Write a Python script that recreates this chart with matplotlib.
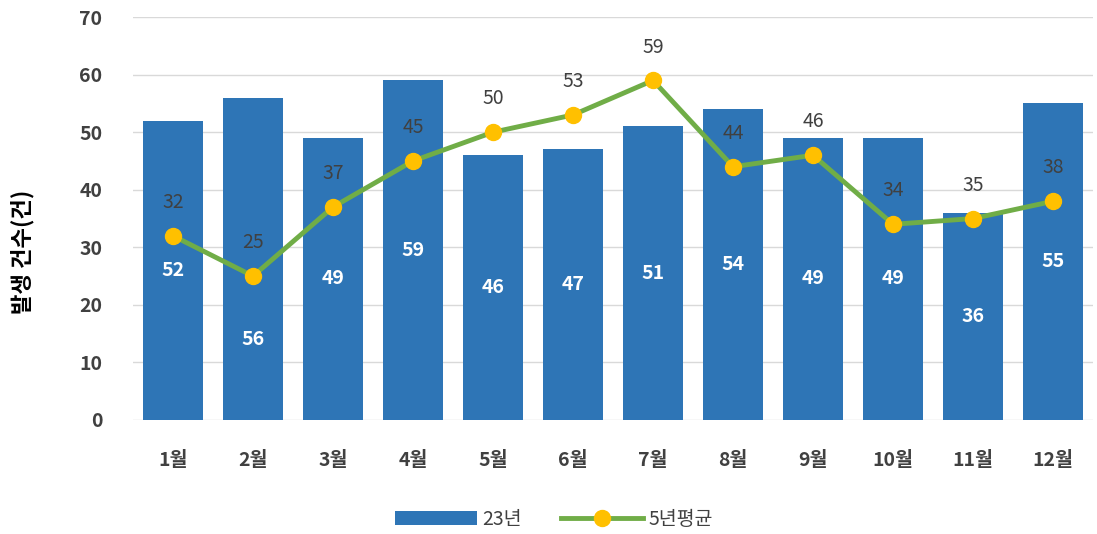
import matplotlib
matplotlib.use("Agg")
import matplotlib.pyplot as plt
import numpy as np

plt.rcParams['font.family'] = ['Noto Sans CJK KR', 'DejaVu Sans']

months = ['1월', '2월', '3월', '4월', '5월', '6월', '7월', '8월', '9월', '10월', '11월', '12월']
cases_23 = [52, 56, 49, 59, 46, 47, 51, 54, 49, 49, 36, 55]
avg_5yr = [32, 25, 37, 45, 50, 53, 59, 44, 46, 34, 35, 38]

BAR_COLOR = '#2E75B6'
LINE_COLOR = '#70AD47'
MARKER_COLOR = '#FFC000'
TEXT_COLOR = '#404040'

fig = plt.figure(figsize=(10.97, 5.34), dpi=100)
ax = fig.add_axes([0.1212, 0.2135, 0.8752, 0.7545])

x = np.arange(len(months))
bars = ax.bar(x, cases_23, width=0.74, color=BAR_COLOR, label='23년', zorder=2)
line, = ax.plot(x, avg_5yr, color=LINE_COLOR, lw=3.5, marker='o', ms=11.5,
                markerfacecolor=MARKER_COLOR, markeredgecolor=MARKER_COLOR,
                label='5년평균', zorder=3)

# bar value labels, centred in the bar (2월 pushed down to clear the marker)
for i, v in enumerate(cases_23):
    ypos = 14 if i == 1 else v / 2
    ax.text(i, ypos, str(v), ha='center', va='center', color='white',
            fontsize=14, fontweight='bold', zorder=4)

# line value labels above markers
for i, v in enumerate(avg_5yr):
    ax.annotate(str(v), (i, v), xytext=(0, 24), textcoords='offset points',
                ha='center', va='center', color=TEXT_COLOR, fontsize=14, zorder=4)

ax.set_xlim(-0.5, len(months) - 0.5)
ax.set_ylim(0, 70)
ax.set_yticks(range(0, 71, 10))
ax.set_xticks(x)
ax.set_xticklabels(months)
ax.yaxis.grid(True, color='#D9D9D9', lw=1, zorder=0)
ax.set_axisbelow(True)
for s in ax.spines.values():
    s.set_visible(False)
ax.tick_params(axis='both', length=0, labelsize=14, labelcolor=TEXT_COLOR)
ax.tick_params(axis='x', pad=22)
ax.tick_params(axis='y', pad=22)
for lbl in ax.get_xticklabels() + ax.get_yticklabels():
    lbl.set_fontweight('bold')

# y label sits a little below the axis centre in the original
fig.text(0.021, 0.528, '발생 건수(건)', rotation=90, ha='center', va='center',
         fontsize=16, fontweight='bold', color='black')

fig.legend([bars, line], ['23년', '5년평균'], loc='center', bbox_to_anchor=(0.505, 0.028),
           ncol=2, frameon=False, fontsize=14, handlelength=4.2, columnspacing=2.0,
           handletextpad=0.3, labelcolor=TEXT_COLOR)

fig.savefig('out.png', dpi=100)
